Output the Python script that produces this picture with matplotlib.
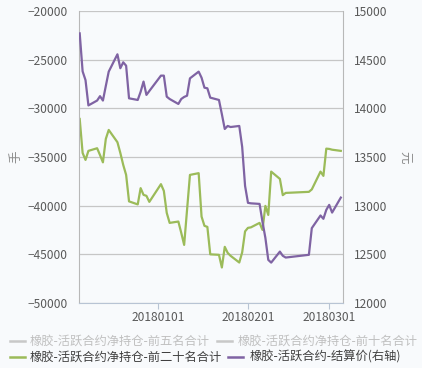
import matplotlib
matplotlib.use("Agg")
import matplotlib.pyplot as plt
import matplotlib.dates as mdates
from matplotlib.lines import Line2D
import pandas as pd

plt.rcParams['font.family'] = ['Noto Sans CJK SC', 'DejaVu Sans']

dates = ["2017-12-05", "2017-12-06", "2017-12-07", "2017-12-08",
         "2017-12-11", "2017-12-12", "2017-12-13", "2017-12-14", "2017-12-15",
         "2017-12-18", "2017-12-19", "2017-12-20", "2017-12-21", "2017-12-22",
         "2017-12-25", "2017-12-26", "2017-12-27", "2017-12-28", "2017-12-29",
         "2018-01-02", "2018-01-03", "2018-01-04", "2018-01-05",
         "2018-01-08", "2018-01-09", "2018-01-10", "2018-01-11", "2018-01-12",
         "2018-01-15", "2018-01-16", "2018-01-17", "2018-01-18", "2018-01-19",
         "2018-01-22", "2018-01-23", "2018-01-24", "2018-01-25", "2018-01-26",
         "2018-01-29", "2018-01-30", "2018-01-31", "2018-02-01", "2018-02-02",
         "2018-02-05", "2018-02-06", "2018-02-07", "2018-02-08", "2018-02-09",
         "2018-02-12", "2018-02-13", "2018-02-14",
         "2018-02-22", "2018-02-23",
         "2018-02-26", "2018-02-27", "2018-02-28", "2018-03-01", "2018-03-02",
         "2018-03-05"]

net_top20 = [-31090, -34580, -35300, -34370,
             -34100, -34800, -35550, -33140, -32220,
             -33480, -34580, -35810, -36840, -39560,
             -39870, -38200, -38890, -38990, -39610,
             -37790, -38480, -40740, -41770,
             -41630, -42790, -44030, -40430, -36840,
             -36660, -41120, -42070, -42180, -45000,
             -45050, -46350, -44230, -44850, -45150,
             -45840, -44800, -42640, -42280, -42230,
             -41770, -42490, -40020, -40950, -36500,
             -37250, -38920, -38690,
             -38580, -38330,
             -36500, -36940, -34140, -34170, -34250,
             -34370]

settle_price = [14770, 14380, 14290, 14030,
                14080, 14125, 14080, 14230, 14377,
                14555, 14412, 14473, 14438, 14103,
                14086, 14170, 14275, 14138, 14178,
                14336, 14336, 14120, 14096,
                14045, 14096, 14117, 14130, 14308,
                14377, 14315, 14212, 14206, 14110,
                14086, 13940, 13788, 13819, 13808,
                13819, 13604, 13203, 13029, 13024,
                13018, 12834, 12669, 12443, 12415,
                12528, 12485, 12467,
                12495, 12769,
                12899, 12865, 12957, 13008, 12929,
                13083]

left_ticks = [-50000, -45000, -40000, -35000, -30000, -25000, -20000]
right_ticks = [12000, 12500, 13000, 13500, 14000, 14500, 15000]
x_ticks = ["2018-01-01", "2018-02-01", "2018-03-01"]

legend_labels = ["橡胶-活跃合约净持仓-前五名合计", "橡胶-活跃合约净持仓-前十名合计",
                 "橡胶-活跃合约净持仓-前二十名合计", "橡胶-活跃合约-结算价(右轴)"]

GREEN = "#9bbb59"
PURPLE = "#7f63a3"
GRID = "#c6c6c6"
TICKC = "#595959"
BG = "#f8fafc"

x = pd.to_datetime(dates)

fig = plt.figure(figsize=(4.22, 3.68), dpi=100, facecolor=BG)
ax = fig.add_axes([78.5/422, 1-303/368, (342.5-78.5)/422, (303-11)/368])
ax.set_facecolor(BG)
ax2 = ax.twinx()

ax.plot(x, net_top20, color=GREEN, lw=1.6, zorder=3)
ax2.plot(x, settle_price, color=PURPLE, lw=1.6, zorder=3)

ax.set_ylim(-50000, -20000)
ax2.set_ylim(12000, 15000)
ax.set_yticks(left_ticks)
ax2.set_yticks(right_ticks)
ax.set_xlim(pd.Timestamp("2017-12-04 14:00"), pd.Timestamp("2018-03-05 14:00"))
ax.set_xticks(pd.to_datetime(x_ticks))
ax.xaxis.set_major_formatter(mdates.DateFormatter("%Y%m%d"))

ax.grid(axis='y', color=GRID, lw=0.9)
ax.set_axisbelow(True)

for a in (ax, ax2):
    for s in a.spines.values():
        s.set_visible(False)
ax2.spines['left'].set_visible(True)
ax2.spines['left'].set_color("#b8b8b8")
ax2.spines['right'].set_visible(True)
ax2.spines['right'].set_color("#b8b8b8")
ax2.spines['bottom'].set_visible(True)
ax2.spines['bottom'].set_color("#b8c4d4")

ax.tick_params(axis='y', length=0, pad=8, labelsize=8.6, colors=TICKC)
ax2.tick_params(axis='y', length=0, pad=8, labelsize=8.6, colors=TICKC)
ax.tick_params(axis='x', length=4, width=0.8, color="#b8c4d4", pad=2,
               labelsize=8.6, labelcolor=TICKC)

fig.text(16/422, 1-157/368, "手", rotation=90, ha='center', va='center',
         fontsize=9, color="#8a8a8a")
fig.text(404/422, 1-157/368, "元", rotation=270, ha='center', va='center',
         fontsize=9, color="#8a8a8a")

# legend (flow layout)
legend_items = [
    (10, 30, 340.7, "#c8c8c8", "#c0c0c0", legend_labels[0]),
    (217, 237.5, 340.7, "#c8c8c8", "#c0c0c0", legend_labels[1]),
    (10, 30, 356.7, GREEN, "#404040", legend_labels[2]),
    (228, 250, 356.7, PURPLE, "#404040", legend_labels[3]),
]
for lx, tx, ly, lc, tc, lab in legend_items:
    yy = 1 - ly/368
    fig.add_artist(Line2D([lx/422, (lx+15)/422], [yy, yy], color=lc, lw=1.8,
                          transform=fig.transFigure))
    fig.text(tx/422, yy, lab, ha='left', va='center', fontsize=8.85, color=tc)

fig.savefig("out.png", dpi=100, facecolor=BG)
